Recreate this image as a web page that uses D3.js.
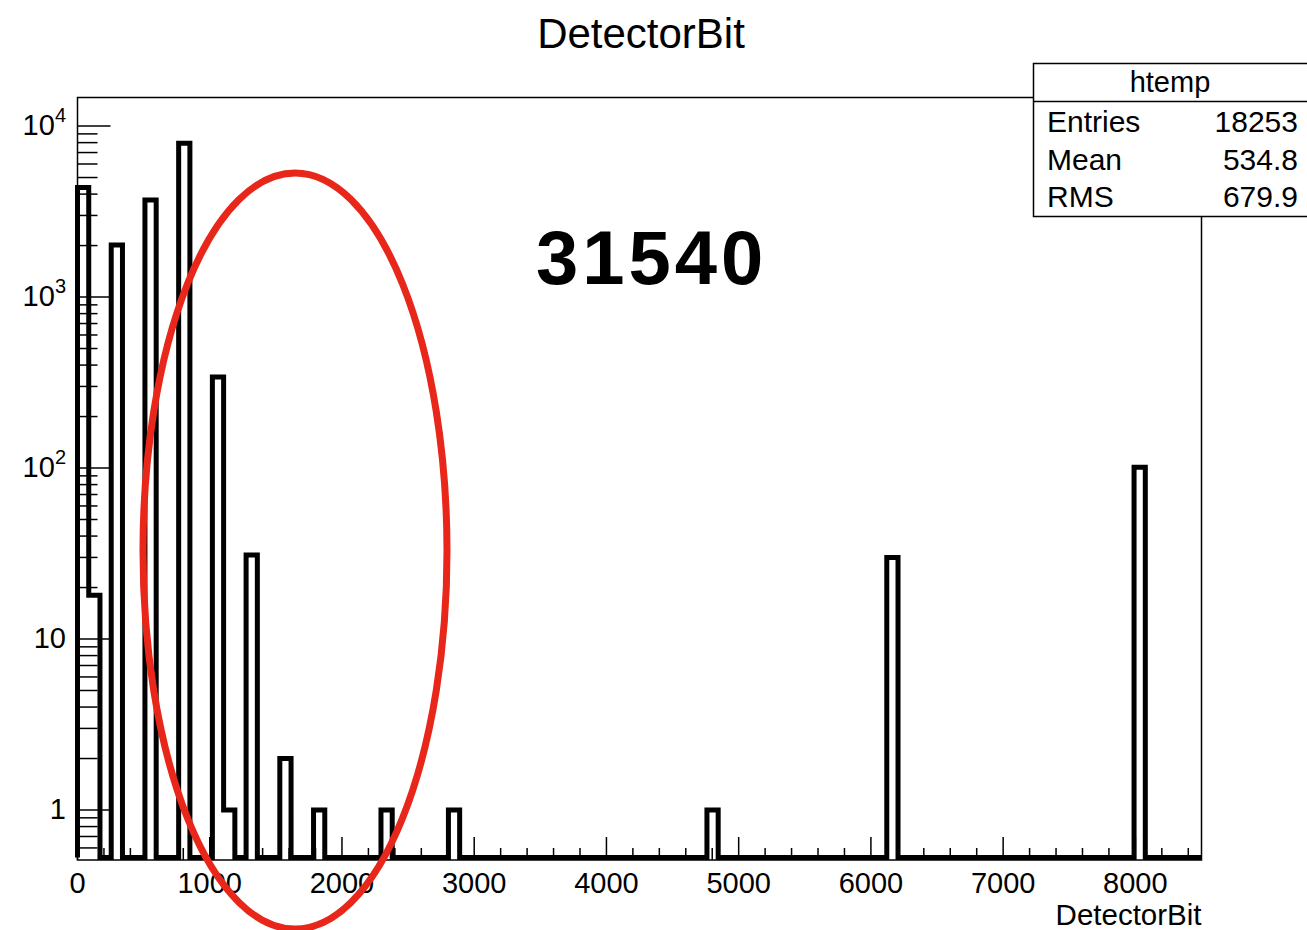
<!DOCTYPE html>
<html>
<head>
<meta charset="utf-8">
<script src="https://cdn.jsdelivr.net/npm/d3@7"></script>
<style>
  html, body { margin: 0; padding: 0; background: #fff; }
  svg { display: block; }
  text { font-family: "Liberation Sans", Arial, Helvetica, sans-serif; fill: #000; }
</style>
</head>
<body>
<svg id="chart" width="1307" height="930"></svg>
<script>
// ---------------- data ----------------
const chartTitle = "DetectorBit";
const xAxisTitle = "DetectorBit";
const xMin = 0, xMax = 8500, nBins = 100;
const filledBins = [0, 1, 3, 6, 9, 12, 13, 15, 18, 21, 27, 33, 56, 72, 94];
const binCounts  = [4365, 18, 2014, 3700, 7930, 341, 1, 31, 2, 1, 1, 1, 1, 30, 101];
const yMin = 0.51, yMax = 14690;
const xTickValues = [0, 1000, 2000, 3000, 4000, 5000, 6000, 7000, 8000];
const yTickValues = [1, 10, 100, 1000, 10000];
const statsTitle = "htemp";
const statLabels = ["Entries", "Mean", "RMS"];
const statValues = ["18253", "534.8", "679.9"];
const annotationText = "31540";

// ---------------- layout ----------------
const svg = d3.select("#chart");
const frame = { left: 77.5, right: 1201.5, top: 97.5, bottom: 860 };

const x = d3.scaleLinear().domain([xMin, xMax]).range([frame.left, frame.right]);
const y = d3.scaleLog().domain([yMin, yMax]).range([frame.bottom, frame.top]);

// full histogram content
const counts = new Array(nBins).fill(0);
filledBins.forEach((b, i) => { counts[b] = binCounts[i]; });
const binW = (xMax - xMin) / nBins;

// title
svg.append("text")
  .attr("x", 641).attr("y", 48)
  .attr("text-anchor", "middle")
  .attr("font-size", 42)
  .text(chartTitle);

// frame
svg.append("rect")
  .attr("x", frame.left).attr("y", frame.top)
  .attr("width", frame.right - frame.left)
  .attr("height", frame.bottom - frame.top)
  .attr("fill", "none").attr("stroke", "#000").attr("stroke-width", 1.5);

// histogram outline
const lw = 5;
const floorY = frame.bottom - lw / 2;
const yv = v => v > 0 ? Math.min(y(v), floorY) : floorY;
const path = d3.path();
path.moveTo(x(xMin), floorY);
counts.forEach((c, i) => {
  const x1 = x(xMin + (i + 1) * binW);
  path.lineTo(x(xMin + i * binW), yv(c));
  path.lineTo(x1, yv(c));
});
path.lineTo(x(xMax), floorY);
svg.append("path")
  .attr("d", path.toString())
  .attr("fill", "none")
  .attr("stroke", "#000")
  .attr("stroke-width", lw)
  .attr("stroke-linejoin", "miter")
  .attr("stroke-linecap", "butt");

// x axis ticks (inside, pointing up)
const xMinor = d3.range(xMin, xMax + 1, 200);
const gx = svg.append("g");
gx.selectAll("line.minor").data(xMinor).join("line")
  .attr("x1", d => x(d)).attr("x2", d => x(d))
  .attr("y1", frame.bottom)
  .attr("y2", d => frame.bottom - (d % 1000 === 0 ? 23 : 12))
  .attr("stroke", "#000").attr("stroke-width", 1.5);
gx.selectAll("text").data(xTickValues).join("text")
  .attr("x", d => x(d)).attr("y", 893)
  .attr("text-anchor", "middle")
  .attr("font-size", 29)
  .text(d => d3.format("d")(d));

svg.append("text")
  .attr("x", frame.right).attr("y", 925)
  .attr("text-anchor", "end")
  .attr("font-size", 29.5)
  .text(xAxisTitle);

// y axis ticks
const yMinorVals = [];
[-1, 0, 1, 2, 3, 4].forEach(e => {
  for (let m = 1; m < 10; m++) {
    const v = m * Math.pow(10, e);
    if (v >= yMin && v <= yMax) yMinorVals.push({ v, major: m === 1 });
  }
});
const gy = svg.append("g");
gy.selectAll("line").data(yMinorVals).join("line")
  .attr("x1", frame.left)
  .attr("x2", d => frame.left + (d.major ? 33 : 20))
  .attr("y1", d => y(d.v)).attr("y2", d => y(d.v))
  .attr("stroke", "#000").attr("stroke-width", 1.5);

const yl = gy.selectAll("text").data(yTickValues).join("text")
  .attr("x", 66).attr("y", d => y(d) + 9)
  .attr("text-anchor", "end")
  .attr("font-size", 29);
yl.each(function (d) {
  const t = d3.select(this);
  const e = Math.round(Math.log10(d));
  if (e <= 1) { t.text(String(d)); return; }
  t.append("tspan").text("10");
  t.append("tspan").attr("font-size", 20).attr("dy", -13).text(String(e));
});

// stats box
const box = { left: 1033.5, top: 63.5, right: 1312, bottom: 216.5, divider: 101.5 };
svg.append("rect")
  .attr("x", box.left).attr("y", box.top)
  .attr("width", box.right - box.left).attr("height", box.bottom - box.top)
  .attr("fill", "#fff").attr("stroke", "#000").attr("stroke-width", 1.5);
svg.append("line")
  .attr("x1", box.left).attr("x2", box.right)
  .attr("y1", box.divider).attr("y2", box.divider)
  .attr("stroke", "#000").attr("stroke-width", 1.5);
svg.append("text")
  .attr("x", 1170).attr("y", 92)
  .attr("text-anchor", "middle").attr("font-size", 29)
  .text(statsTitle);
const rowBase = [132, 170, 207];
statLabels.forEach((lab, i) => {
  svg.append("text").attr("x", 1047).attr("y", rowBase[i])
    .attr("font-size", 30).text(lab);
  svg.append("text").attr("x", 1298).attr("y", rowBase[i])
    .attr("text-anchor", "end").attr("font-size", 30).text(statValues[i]);
});

// annotation: hand drawn red ellipse and number
svg.append("ellipse")
  .attr("cx", 295).attr("cy", 551)
  .attr("rx", 152).attr("ry", 378)
  .attr("fill", "none")
  .attr("stroke", "#e8261a")
  .attr("stroke-width", 7);

svg.append("text")
  .attr("x", 536).attr("y", 284)
  .attr("font-family", "'Noto Sans', 'Open Sans', sans-serif")
  .attr("font-weight", 700)
  .attr("font-size", 76)
  .attr("letter-spacing", 4)
  .text(annotationText);
</script>
</body>
</html>
